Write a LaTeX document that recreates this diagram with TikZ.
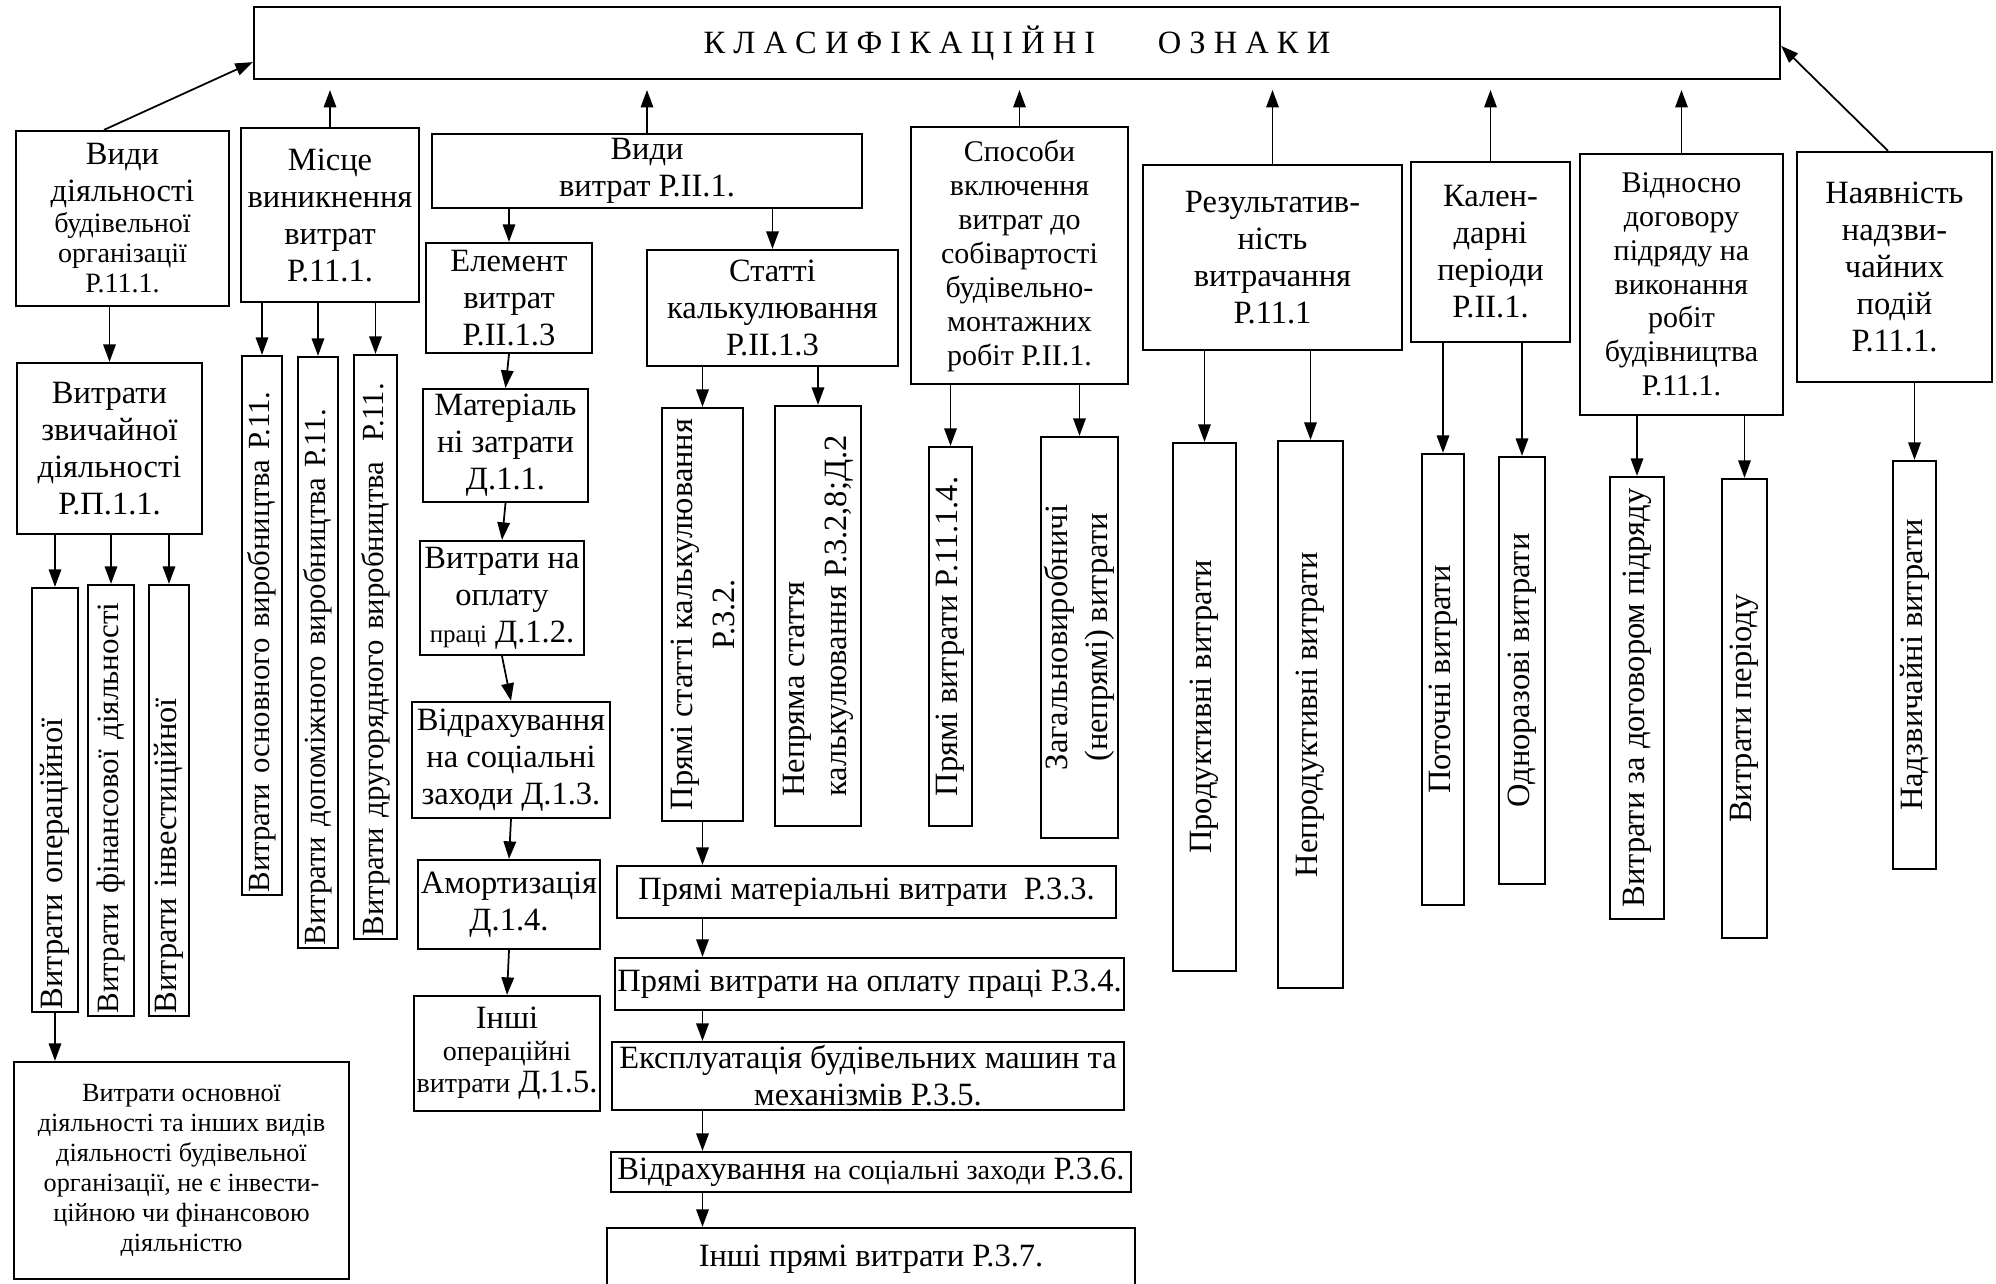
\documentclass[tikz,border=0pt]{standalone}
\usepackage{fontspec}
\setmainfont{Liberation Serif}
\usetikzlibrary{arrows.meta}
\newcommand{\mtxt}{\fontsize{13}{14.8}\selectfont}
\newcommand{\smtxt}{\fontsize{11.2}{12}\selectfont}

\begin{document}
\begin{tikzpicture}[x=0.4pt,y=-0.4pt]
	\tikzstyle{box} = [draw, line width=0.9pt, align=center, inner sep=1pt, font=\mtxt]
	\tikzstyle{vbox} = [box, rotate=90]
	\tikzstyle{arr} = [-{Triangle[length=7pt,width=5pt]}, line width=0.7pt]
	\useasboundingbox (0,0) rectangle (1996,1284);
	
	\node [box, minimum width=610.4pt, minimum height=28.8pt, font=\fontsize{13}{15}\selectfont] (ozn) at (1017,43) {К Л А С И Ф І К А Ц І Й Н І\hspace{25pt}О З Н А К И};
	
	% ознаки
	\node [box, minimum width=85.2pt, minimum height=70pt] (vd) at (122.5,218.5) {Види\\діяльності\\[-2.4pt]\smtxt будівельної\\[-2.8pt]\smtxt організації\\[-2.8pt]\smtxt Р.11.1.};
	\node [box, minimum width=71.2pt, minimum height=69.6pt] (mv) at (330,215) {Місце\\виникнення\\витрат\\Р.11.1.};
	\node [box, minimum width=172pt, minimum height=29.6pt] (vv) at (647,171) {Види\\витрат Р.ІІ.1.};
	\node [box, minimum width=86.8pt, minimum height=102.8pt, font=\fontsize{12}{13.6}\selectfont] (sp) at (1019.5,255.5) {Способи\\включення\\витрат до\\собівартості\\будівельно-\\монтажних\\робіт Р.ІІ.1.};
	\node [box, minimum width=103.6pt, minimum height=74pt] (rv) at (1272.5,257.5) {Результатив-\\ність\\витрачання\\Р.11.1};
	\node [box, minimum width=63.6pt, minimum height=72pt] (kp) at (1490.5,252) {Кален-\\дарні\\періоди\\Р.ІІ.1.};
	\node [box, minimum width=81.2pt, minimum height=104.4pt, font=\fontsize{12}{13.5}\selectfont] (vdp) at (1681.5,284.5) {Відносно\\договору\\підряду на\\виконання\\робіт\\будівництва\\Р.11.1.};
	\node [box, minimum width=78pt, minimum height=92pt] (nn) at (1894.5,267) {Наявність\\надзви-\\чайних\\подій\\Р.11.1.};
	
	\coordinate (gap) at (0,90);
	\draw [arr] ([xshift=-7.4pt]vd.north) -- ([yshift=7.2pt]ozn.south west);
	\draw [arr] (mv.north) -- (mv.north |- gap);
	\draw [arr] (vv.north) -- (vv.north |- gap);
	\draw [arr] (sp.north) -- (sp.north |- gap);
	\draw [arr] (rv.north) -- (rv.north |- gap);
	\draw [arr] (kp.north) -- (kp.north |- gap);
	\draw [arr] (vdp.north) -- (vdp.north |- gap);
	\draw [arr] ([xshift=-2.6pt]nn.north) -- ([yshift=-16pt]ozn.north east);
	
	% види діяльності
	\node [box, minimum width=74pt, minimum height=68.4pt] (vz) at (109.5,448.5) {Витрати\\звичайної\\діяльності\\Р.П.1.1.};
	\draw [arr] (vz.north |- vd.south) -- (vz.north);
	\node [vbox, minimum height=18.4pt, text width=167.6pt, align=left] (vo) at (55,800) {\mbox{Витрати операційної}};
	\node [vbox, minimum height=18.4pt, text width=170.4pt, align=left, font=\fontsize{12.4}{14}\selectfont] (vf) at (111,800.5) {\mbox{Витрати фінансової діяльності}};
	\node [vbox, minimum height=16pt, text width=170.4pt, align=left] (vi) at (169,800.5) {\mbox{Витрати інвестиційної}};
	\draw [arr] (vo.east |- vz.south) -- (vo.east);
	\draw [arr] (vf.east |- vz.south) -- (vf.east);
	\draw [arr] (vi.east |- vz.south) -- (vi.east);
	\node [box, minimum width=134pt, minimum height=86.8pt, font=\fontsize{10.5}{12}\selectfont] (ob) at (181.5,1170.5) {Витрати основної\\діяльності та інших видів\\діяльності будівельної\\організації, не є інвести-\\ційною чи фінансовою\\діяльністю};
	\draw [arr] (vo.west) -- (vo.west |- ob.north);
	
	% місце виникнення
	\node [vbox, minimum height=16pt, text width=213.6pt, align=left, font=\fontsize{12.3}{14}\selectfont] (mo) at (262,625.5) {\mbox{Витрати основного виробництва Р.11.}};
	\node [vbox, minimum height=16pt, text width=234.4pt, align=left, font=\fontsize{12.3}{14}\selectfont] (md) at (318,652.5) {\mbox{Витрати допоміжного виробництва Р.11.}};
	\node [vbox, minimum height=17.2pt, text width=231.6pt, align=left, font=\fontsize{12.3}{14}\selectfont] (mdr) at (375.5,647) {\mbox{Витрати другорядного виробництва\ \ Р.11.}};
	\draw [arr] (mo.east |- mv.south) -- (mo.east);
	\draw [arr] (md.east |- mv.south) -- (md.east);
	\draw [arr] (mdr.east |- mv.south) -- (mdr.east);
	
	% види витрат
	\node [box, minimum width=66.4pt, minimum height=44pt] (ev) at (509,298) {Елемент\\витрат\\Р.ІІ.1.3};
	\node [box, minimum width=100.4pt, minimum height=46.4pt] (st) at (772.5,308) {Статті\\калькулювання\\Р.ІІ.1.3};
	\draw [arr] (vv.south -| ev.north) -- (ev.north);
	\draw [arr] (vv.south -| st.north) -- (st.north);
	
	\node [box, minimum width=66pt, minimum height=45.2pt] (m1) at (505.5,445.5) {Матеріаль\\ні затрати\\Д.1.1.};
	\node [box, minimum width=65.6pt, minimum height=45.6pt] (m2) at (502,598) {Витрати на\\оплату\\{\fontsize{10}{12}\selectfont праці} Д.1.2.};
	\node [box, minimum width=79.2pt, minimum height=46.4pt] (m3) at (511,760) {Відрахування\\на соціальні\\заходи Д.1.3.};
	\node [box, minimum width=71.2pt, minimum height=35.6pt] (m4) at (509,904.5) {Амортизація\\Д.1.4.};
	\node [box, minimum width=73.6pt, minimum height=46pt] (m5) at (507,1053.5) {Інші\\[-2pt]\smtxt операційні\\[-2pt]{\smtxt витрати} Д.1.5.};
	\draw [arr] (ev.south) -- (m1.north);
	\draw [arr] (m1.south) -- (m2.north);
	\draw [arr] (m2.south) -- (m3.north);
	\draw [arr] (m3.south) -- (m4.north);
	\draw [arr] (m4.south) -- (m5.north);
	
	\node [vbox, minimum width=165.2pt, minimum height=32.4pt] (ps) at (702.5,614.5) {Прямі статті калькулювання\\[2pt]Р.3.2.};
	\node [vbox, minimum width=168pt, minimum height=34.4pt, align=left] (ns) at (818,616) {Непряма стаття\\[2pt]калькулювання Р.3.2,8;Д.2};
	\draw [arr] (ps.east |- st.south) -- (ps.east);
	\draw [arr] (ns.east |- st.south) -- (ns.east);
	
	\node [box, minimum width=199.6pt, minimum height=20.8pt] (c1) at (866.5,892) {Прямі матеріальні витрати\ \ Р.3.3.};
	\node [box, minimum width=202pt, minimum height=20.8pt] (c2) at (869.5,984) {Прямі витрати на оплату праці Р.3.4.};
	\node [box, minimum width=204.8pt, minimum height=27.2pt, inner ysep=0pt] (c3) at (868,1076) {Експлуатація будівельних машин та\\механізмів Р.3.5.};
	\node [box, minimum width=208pt, minimum height=16pt] (c4) at (871,1172) {Відрахування {\smtxt на соціальні заходи} Р.3.6.};
	\node [box, minimum width=211.2pt, minimum height=24.8pt] (c5) at (871,1259) {Інші прямі витрати Р.3.7.};
	\draw [arr] (ps.west) -- (ps.west |- c1.north);
	\draw [arr] (c1.south -| ps.west) -- (c2.north -| ps.west);
	\draw [arr] (c2.south -| ps.west) -- (c3.north -| ps.west);
	\draw [arr] (c3.south -| ps.west) -- (c4.north -| ps.west);
	\draw [arr] (c4.south -| ps.west) -- (c5.north -| ps.west);
	
	% способи включення
	\node [vbox, minimum width=151.6pt, minimum height=17.2pt] (pv) at (950.5,636.5) {Прямі витрати Р.11.1.4.};
	\node [vbox, minimum width=160.4pt, minimum height=30.8pt] (zv) at (1079.5,637.5) {Загальновиробничі\\[1.2pt](непрямі) витрати};
	\draw [arr] (pv.east |- sp.south) -- (pv.east);
	\draw [arr] (zv.east |- sp.south) -- (zv.east);
	
	% результативність, періоди, договір, надзвичайні
	\node [vbox, minimum width=211.2pt, minimum height=25.2pt] (pr) at (1204.5,707) {Продуктивні витрати};
	\node [vbox, minimum width=218.8pt, minimum height=26pt] (np) at (1310.5,714.5) {Непродуктивні витрати};
	\draw [arr] (pr.east |- rv.south) -- (pr.east);
	\draw [arr] (np.east |- rv.south) -- (np.east);
	
	\node [vbox, minimum width=180.4pt, minimum height=16.8pt] (pt) at (1443,679.5) {Поточні витрати};
	\node [vbox, minimum width=170.8pt, minimum height=18.4pt] (odn) at (1522,670.5) {Одноразові витрати};
	\draw [arr] (pt.east |- kp.south) -- (pt.east);
	\draw [arr] (odn.east |- kp.south) -- (odn.east);
	
	\node [vbox, minimum width=176.8pt, minimum height=21.6pt] (dg) at (1637,698) {Витрати за договором підряду};
	\node [vbox, minimum width=183.6pt, minimum height=18pt] (vp) at (1744.5,708.5) {Витрати періоду};
	\draw [arr] (dg.east |- vdp.south) -- (dg.east);
	\draw [arr] (vp.east |- vdp.south) -- (vp.east);
	
	\node [vbox, minimum width=163.2pt, minimum height=17.2pt] (nv) at (1914.5,665) {Надзвичайні витрати};
	\draw [arr] (nv.east |- nn.south) -- (nv.east);
	
\end{tikzpicture}
\end{document}
